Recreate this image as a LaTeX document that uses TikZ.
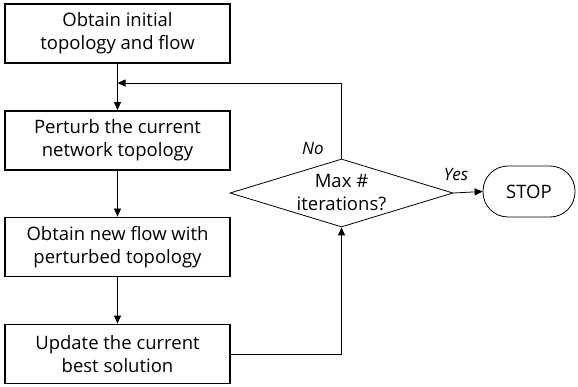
\documentclass[tikz,border=0pt]{standalone}
\usepackage{fontspec}
\setmainfont{Open Sans}
\usetikzlibrary{shapes, arrows.meta, positioning, calc}

\begin{document}
\begin{tikzpicture}[
  x=1pt, y=-1pt,
  font=\fontsize{18.5}{23}\selectfont,
  sbox/.style={draw, line width=1.8pt, minimum width=225pt, minimum height=59pt, align=center, inner sep=2pt},
  dbox/.style={draw, diamond, line width=0.8pt, minimum width=223pt, minimum height=68pt, inner sep=0pt},
  tbox/.style={draw, line width=0.8pt, rounded corners=25pt, minimum width=92pt, minimum height=51pt},
  flow/.style={line width=0.8pt, -{Triangle[length=8pt, width=7pt]}},
  lbl/.style={font=\fontsize{17}{20}\selectfont\itshape}
]
  \useasboundingbox (0,0) rectangle (578,387);

  \node[sbox] (init) at (117.5, 33.5) {Obtain initial\\topology and flow};
  \node[sbox] (perturb) at (117.5, 140.5) {Perturb the current\\network topology};
  \node[sbox] (newflow) at (117.5, 247) {Obtain new flow with\\perturbed topology};
  \node[sbox] (update) at (117.5, 354) {Update the current\\best solution};
  \node[dbox] (maxit) at (341.5, 193) {};
  \node[align=center] (maxtxt) at (maxit) {Max \#\\iterations?};
  \node[tbox] (stop) at (529, 191.5) {STOP};
  \coordinate (join) at (117.5, 83);

  % main sequence
  \draw[flow] (init) -- (perturb);
  \draw[flow] (perturb) -- (newflow);
  \draw[flow] (newflow) -- (update);
  \draw[flow] (update.east) -| (maxit.south);
  \draw[flow] (maxit.east) -- (stop.west);
  \draw[flow] (maxit.north) |- (join);
  \node[lbl] (yes) at (456, 175) {Yes};
  \node[lbl] (no) at (313, 149) {No};
\end{tikzpicture}
\end{document}
